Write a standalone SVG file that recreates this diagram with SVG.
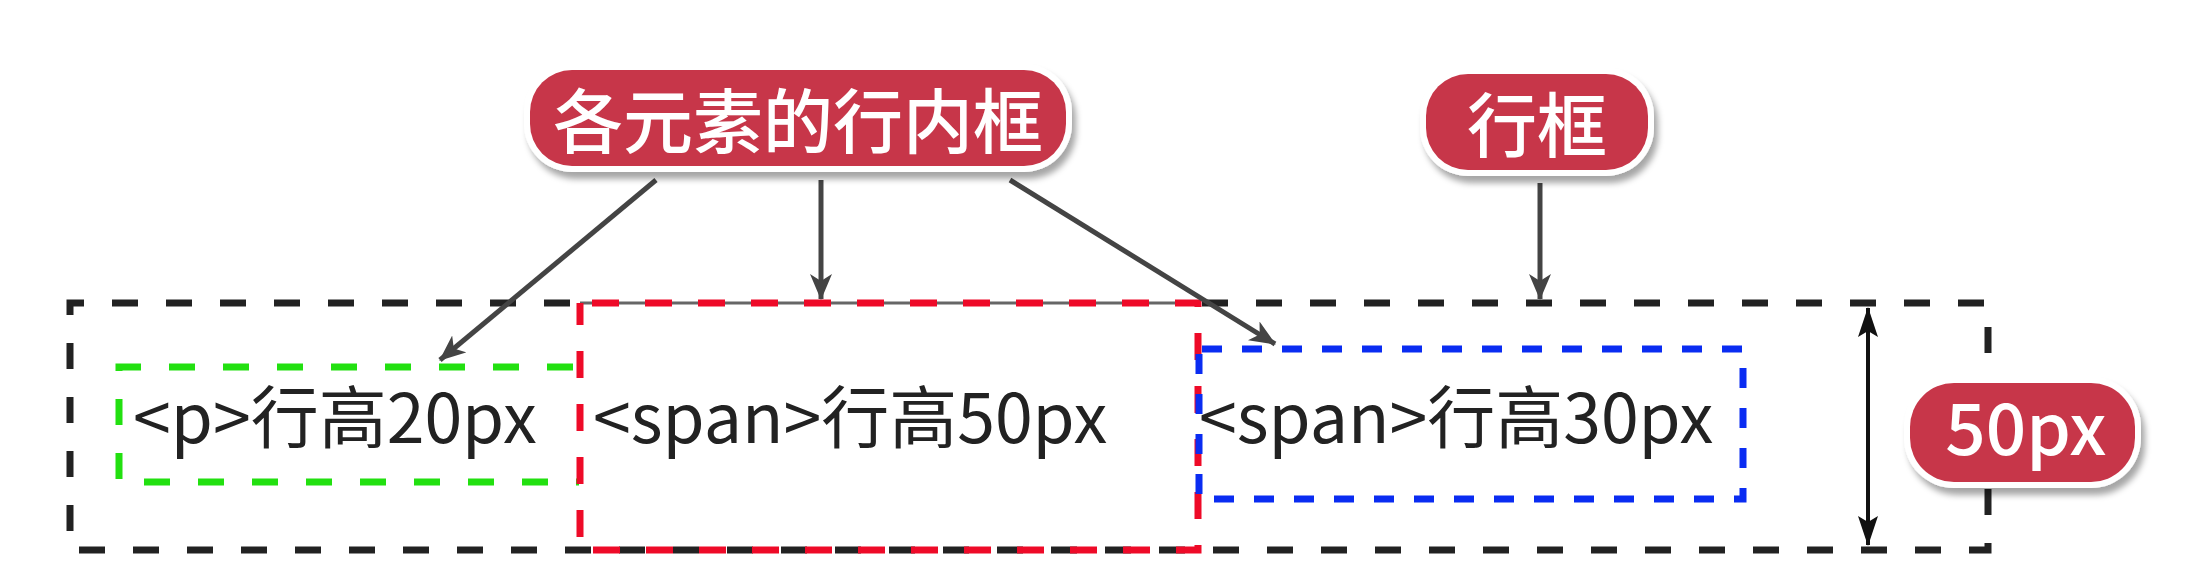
<svg xmlns="http://www.w3.org/2000/svg" width="2194" height="584" viewBox="0 0 2194 584">
<style>
.lbl-ring{fill:#fff;filter:url(#sh)}
.lbl{fill:#c73649}
.lbl-t{fill:#fff;font-family:"Noto Sans CJK SC","Noto Sans",sans-serif;text-anchor:middle;font-weight:500}
.txt{fill:#222;font-family:"Noto Sans CJK SC","Noto Sans",sans-serif;font-size:68px;font-weight:400}
.conn{stroke:#444;stroke-width:5;fill:none;marker-end:url(#ah)}
</style>
<defs>
<filter id="sh" x="-10%" y="-20%" width="125%" height="150%">
<feDropShadow dx="4" dy="7" stdDeviation="3" flood-color="#000" flood-opacity="0.35"/>
</filter>
<marker id="ah" markerUnits="userSpaceOnUse" viewBox="0 0 26 22" refX="25" refY="11" markerWidth="26" markerHeight="22" orient="auto">
<path d="M0,0 L26,11 L0,22 L7,11 z" fill="#444"/>
</marker>
<marker id="bh" markerUnits="userSpaceOnUse" viewBox="0 0 30 20" refX="29" refY="10" markerWidth="30" markerHeight="20" orient="auto-start-reverse">
<path d="M0,0 L30,10 L0,20 L6,10 z" fill="#111"/>
</marker>
</defs>
<rect width="2194" height="584" fill="#fff"/>

<g id="line-box">
<path d="M1198,303 H1988 V550 H70 V303 H580" fill="none" stroke="#222" stroke-width="7" stroke-dasharray="26 28" stroke-dashoffset="-4"/>
<line x1="580" y1="303" x2="1198" y2="303" stroke="#666" stroke-width="3"/>
</g>

<g id="p-box">
<path d="M579,367 H119 V482 H579" fill="none" stroke="#22e010" stroke-width="7" stroke-dasharray="26 28" stroke-dashoffset="-6"/>
<text class="txt" x="133" y="443">&lt;p&gt;行高20px</text>
</g>

<g id="span50-box">
<rect x="580" y="303" width="618" height="247" fill="none" stroke="#ee0a28" stroke-width="7" stroke-dasharray="27 26" stroke-dashoffset="-12"/>
<text class="txt" x="593" y="443">&lt;span&gt;行高50px</text>
</g>

<g id="span30-box">
<rect x="1199" y="349" width="544" height="150" fill="none" stroke="#0a2cf2" stroke-width="7" stroke-dasharray="20 20" stroke-dashoffset="-3"/>
<text class="txt" x="1199" y="443">&lt;span&gt;行高30px</text>
</g>

<g id="connectors">
<line class="conn" x1="656" y1="180" x2="440" y2="360"/>
<line class="conn" x1="821" y1="180" x2="821" y2="299"/>
<line class="conn" x1="1010" y1="180" x2="1275" y2="344"/>
<line class="conn" x1="1540" y1="183" x2="1540" y2="299"/>
<line x1="1868" y1="308" x2="1868" y2="545" stroke="#111" stroke-width="4" marker-start="url(#bh)" marker-end="url(#bh)"/>
</g>

<g id="label-inline">
<rect class="lbl-ring" x="524" y="64" width="548" height="108" rx="48"/>
<rect class="lbl" x="530" y="70" width="536" height="96" rx="42"/>
<text class="lbl-t" x="798" y="148" font-size="70">各元素的行内框</text>
</g>

<g id="label-linebox">
<rect class="lbl-ring" x="1420" y="68" width="234" height="108" rx="48"/>
<rect class="lbl" x="1426" y="74" width="222" height="96" rx="42"/>
<text class="lbl-t" x="1537" y="152" font-size="70">行框</text>
</g>

<g id="label-50px">
<rect class="lbl-ring" x="1904" y="377" width="237" height="111" rx="50"/>
<rect class="lbl" x="1910" y="383" width="225" height="99" rx="44"/>
<text class="lbl-t" x="2026" y="455" font-size="71">50px</text>
</g>
</svg>
